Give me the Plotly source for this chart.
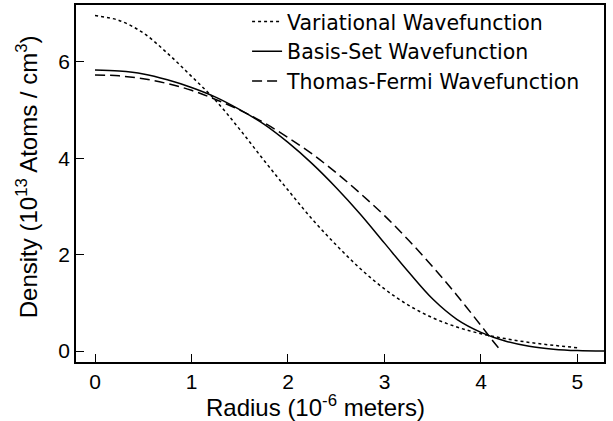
import plotly.graph_objects as go

# Radius in units of 1e-6 m
radius = [0, 0.25, 0.5, 0.75, 1.0, 1.25, 1.5, 1.75, 2.0, 2.25, 2.5, 2.75,
          3.0, 3.25, 3.5, 3.75, 4.0, 4.25, 4.5, 4.75, 5.0]

variational = [6.96, 6.86, 6.60, 6.18, 5.70, 5.20, 4.60, 3.96, 3.34, 2.74, 2.20, 1.71,
               1.29, 0.95, 0.69, 0.50, 0.36, 0.26, 0.18, 0.12, 0.07]

radius_basis = radius + [5.3]
basis_set = [5.83, 5.81, 5.75, 5.63, 5.47, 5.27, 5.01, 4.71, 4.33, 3.89, 3.39, 2.84,
             2.24, 1.64, 1.08, 0.66, 0.39, 0.21, 0.10, 0.04, 0.01, 0.0]

radius_tf = [0, 0.25, 0.5, 0.75, 1.0, 1.25, 1.5, 1.75, 2.0, 2.25, 2.5, 2.75,
             3.0, 3.25, 3.5, 3.75, 4.0, 4.1, 4.21]
thomas_fermi = [5.73, 5.71, 5.65, 5.55, 5.41, 5.22, 5.00, 4.74, 4.43, 4.09, 3.70, 3.27,
                2.81, 2.30, 1.75, 1.16, 0.53, 0.27, 0.0]

names = ["Variational Wavefunction", "Basis-Set Wavefunction", "Thomas-Fermi Wavefunction"]
x_ticks = [0, 1, 2, 3, 4, 5]
y_ticks = [0, 2, 4, 6]

FONT = "Liberation Sans, Arial, Helvetica, sans-serif"
LEGEND_FONT = "DejaVu Sans, Liberation Sans, sans-serif"

fig = go.Figure()
fig.add_trace(go.Scatter(x=radius, y=variational, mode="lines", name=names[0],
                         line=dict(color="black", width=1.5, dash="3px,3px", shape="spline")))
fig.add_trace(go.Scatter(x=radius_basis, y=basis_set, mode="lines", name=names[1],
                         line=dict(color="black", width=1.5, shape="spline")))
fig.add_trace(go.Scatter(x=radius_tf, y=thomas_fermi, mode="lines", name=names[2],
                         line=dict(color="black", width=1.5, dash="10px,5px", shape="spline")))

fig.update_layout(
    width=613, height=421,
    margin=dict(l=76, r=9, t=2, b=59),
    paper_bgcolor="white", plot_bgcolor="white",
    font=dict(family=FONT, color="black", size=21),
    showlegend=True,
    legend=dict(x=0.324, y=1.009, xanchor="left", yanchor="top",
                bgcolor="rgba(0,0,0,0)", borderwidth=0,
                font=dict(size=20.5, family=LEGEND_FONT), tracegroupgap=0),
    annotations=[
        dict(text="Radius (10<sup>-6</sup> meters)", xref="paper", yref="paper",
             x=0.4527, y=-0.075, xanchor="center", yanchor="top", showarrow=False,
             font=dict(size=24, family=FONT)),
        dict(text="Density (10<sup>13</sup> Atoms / cm<sup>3</sup>)", xref="paper", yref="paper",
             x=-0.093, y=0.52, xanchor="center", yanchor="middle", textangle=-90,
             showarrow=False, font=dict(size=24, family=FONT)),
    ],
)

fig.update_xaxes(range=[-0.197, 5.275], tickvals=x_ticks, ticks="inside", ticklen=8,
                 tickwidth=1, tickcolor="black", showline=True, linecolor="black",
                 linewidth=1.5, mirror=True, showgrid=False, zeroline=False,
                 tickfont=dict(size=21, family=FONT))
fig.update_yaxes(range=[-0.226, 7.18], tickvals=y_ticks, ticks="inside", ticklen=8,
                 tickwidth=1, tickcolor="black", showline=True, linecolor="black",
                 linewidth=1.5, mirror=True, showgrid=False, zeroline=False,
                 tickfont=dict(size=21, family=FONT))

fig.write_html("out.html", config={"displayModeBar": False},
               post_script="document.body.style.margin='0';document.body.style.overflow='hidden';")
